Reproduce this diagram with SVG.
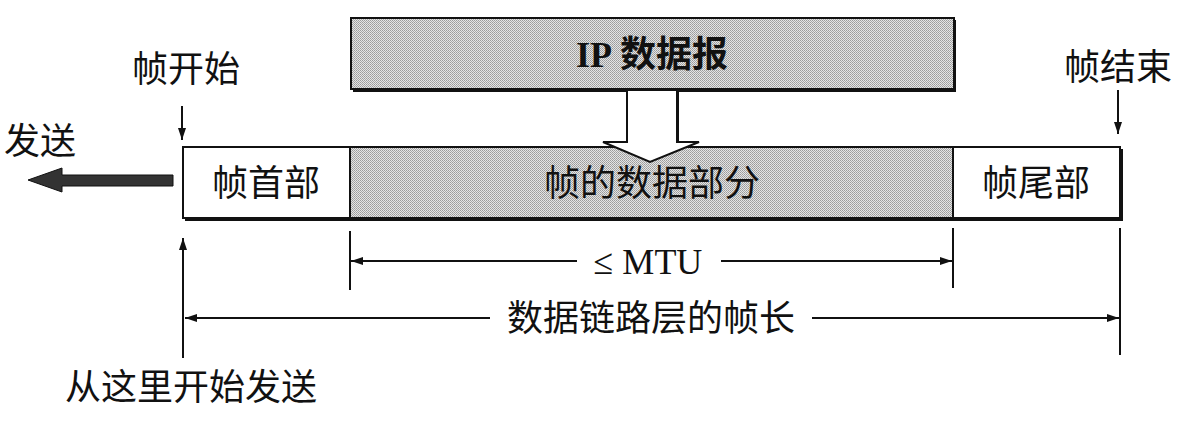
<svg xmlns="http://www.w3.org/2000/svg" width="1186" height="430" viewBox="0 0 1186 430">
<style>
.cn{font-family:"Noto Sans CJK SC","Noto Sans",sans-serif;font-size:36px;fill:#111}
.sr{font-family:"Liberation Serif",serif;font-size:36px;fill:#111}
.box{stroke:#111;stroke-width:2}
.ln{stroke:#111;stroke-width:2;fill:none}
</style>
<defs>
<pattern id="dots" width="2" height="2" patternUnits="userSpaceOnUse">
<rect width="2" height="2" fill="#e4e4e4"/>
<rect width="1" height="1" fill="#9a9a9a"/>
<rect x="1" y="1" width="1" height="1" fill="#a8a8a8"/>
</pattern>
<marker id="ah" viewBox="0 0 12 8" refX="12" refY="4" markerWidth="12" markerHeight="8" markerUnits="userSpaceOnUse" orient="auto-start-reverse">
<path d="M0,0 L12,4 L0,8 Z" fill="#111"/>
</marker>
</defs>

<g id="ip-datagram">
<rect x="351" y="18" width="603" height="71" fill="url(#dots)" class="box"/>
<path d="M955,20 V91 H353" class="ln" stroke-width="3"/>
<text x="652" y="67" text-anchor="middle"><tspan class="sr" font-weight="bold">IP</tspan><tspan class="cn" font-weight="bold"> 数据报</tspan></text>
</g>

<g id="frame">
<rect x="183" y="147" width="937" height="71" fill="#fff" class="box"/>
<rect x="350" y="147" width="603" height="71" fill="url(#dots)" class="box"/>
<path d="M1122,149 V220 H185" class="ln" stroke-width="3"/>
</g>
<g id="header"><text class="cn" x="266" y="196" text-anchor="middle">帧首部</text></g>
<g id="data"><text class="cn" x="652" y="196" text-anchor="middle">帧的数据部分</text></g>
<g id="trailer"><text class="cn" x="1036" y="196" text-anchor="middle">帧尾部</text></g>

<g id="encap-arrow">
<path d="M627,90 V142 H603 L650,162 L699,142 H677 V90 Z" fill="#fff" stroke="#111" stroke-width="2"/>
<path d="M678,90 V142" class="ln" stroke-width="3"/>
</g>

<g id="labels">
<text class="cn" x="186" y="82" text-anchor="middle">帧开始</text>
<text class="cn" x="1118" y="80" text-anchor="middle">帧结束</text>
<text class="cn" x="40" y="154" text-anchor="middle">发送</text>
<text class="cn" x="191" y="400" text-anchor="middle">从这里开始发送</text>
</g>

<g id="connectors">
<line x1="182" y1="106" x2="182" y2="140" class="ln" marker-end="url(#ah)"/>
<line x1="1118" y1="90" x2="1118" y2="134" class="ln" marker-end="url(#ah)"/>
<path d="M173,175 H62 V168 L28,180 L62,192 V186 H173 Z" fill="#333" stroke="#111" stroke-width="1"/>
<line x1="183" y1="358" x2="183" y2="238" class="ln" stroke-width="3.5" marker-end="url(#ah)"/>
<line x1="350" y1="231" x2="350" y2="290" class="ln"/>
<line x1="953" y1="228" x2="953" y2="288" class="ln"/>
<line x1="1120" y1="228" x2="1120" y2="355" class="ln"/>
<line x1="577" y1="261" x2="351" y2="261" class="ln" marker-end="url(#ah)"/>
<line x1="721" y1="261" x2="952" y2="261" class="ln" marker-end="url(#ah)"/>
<line x1="490" y1="318" x2="185" y2="318" class="ln" marker-end="url(#ah)"/>
<line x1="812" y1="318" x2="1119" y2="318" class="ln" marker-end="url(#ah)"/>
<text class="sr" x="648" y="274" text-anchor="middle">≤ MTU</text>
<text class="cn" x="651" y="331" text-anchor="middle">数据链路层的帧长</text>
</g>
</svg>
